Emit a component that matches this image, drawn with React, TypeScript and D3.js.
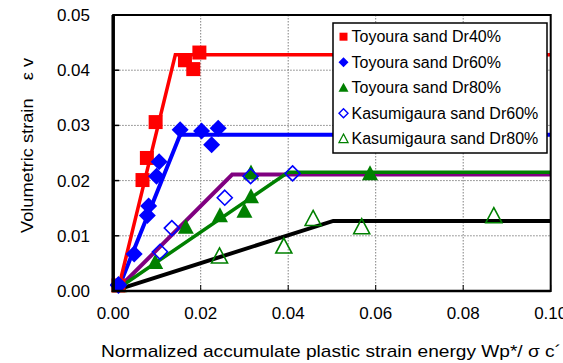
import React from "react";
import * as d3 from "d3";

const W = 563;
const H = 363;

const xTicks = [0, 0.02, 0.04, 0.06, 0.08, 0.1];
const yTicks = [0, 0.01, 0.02, 0.03, 0.04, 0.05];

// Toyoura sand Dr40% (red squares)
const toyoura40X = [0.0012, 0.0067, 0.0077, 0.0097, 0.0164, 0.0183, 0.0197];
const toyoura40Y = [0.0010, 0.0201, 0.0241, 0.0306, 0.0418, 0.0402, 0.0432];
// Toyoura sand Dr60% (blue diamonds)
const toyoura60X = [0.0012, 0.0048, 0.0078, 0.0081, 0.0099, 0.0105, 0.0153, 0.0202, 0.0225, 0.0240];
const toyoura60Y = [0.0012, 0.0067, 0.0137, 0.0154, 0.0208, 0.0234, 0.0292, 0.0290, 0.0265, 0.0295];
// Toyoura sand Dr80% (green filled triangles)
const toyoura80X = [0.0014, 0.0096, 0.0166, 0.0244, 0.0300, 0.0315, 0.0315, 0.0587];
const toyoura80Y = [0.0010, 0.0052, 0.0116, 0.0137, 0.0145, 0.0171, 0.0214, 0.0213];
// Kasumigaura sand Dr60% (open blue diamonds)
const kasumi60X = [0.0012, 0.0107, 0.0134, 0.0255, 0.0314, 0.0410];
const kasumi60Y = [0.0010, 0.0071, 0.0114, 0.0169, 0.0208, 0.0213];
// Kasumigaura sand Dr80% (open green triangles)
const kasumi80X = [0.0243, 0.0390, 0.0457, 0.0568, 0.0870];
const kasumi80Y = [0.0063, 0.0081, 0.0131, 0.0116, 0.0136];

// Fitted bilinear lines: [start, knee, end]
const lineRedX = [0.0012, 0.0142, 0.1];
const lineRedY = [0.0005, 0.0428, 0.0428];
const lineBlueX = [0.0012, 0.0153, 0.1];
const lineBlueY = [0.0005, 0.0283, 0.0283];
const linePurpleX = [0.0012, 0.0272, 0.1];
const linePurpleY = [0.0005, 0.0211, 0.0211];
const lineGreenX = [0.0012, 0.0400, 0.1];
const lineGreenY = [0.0005, 0.0215, 0.0215];
const lineBlackX = [0.0012, 0.0503, 0.1];
const lineBlackY = [0.0003, 0.0127, 0.0127];

const legendLabels = [
  "Toyoura sand Dr40%",
  "Toyoura sand Dr60%",
  "Toyoura sand Dr80%",
  "Kasumigaura sand Dr60%",
  "Kasumigaura sand Dr80%",
];

const x = d3.scaleLinear().domain([0, 0.1]).range([113.2, 550.7]);
const y = d3.scaleLinear().domain([0, 0.05]).range([291, 15]);

const zip = (xs: number[], ys: number[]) => xs.map((v, i) => [v, ys[i]] as [number, number]);

const lineGen = d3
  .line<[number, number]>()
  .x((d) => x(d[0]))
  .y((d) => y(d[1]));

function squarePath(cx: number, cy: number, s: number) {
  const h = s / 2;
  return `M${cx - h},${cy - h}H${cx + h}V${cy + h}H${cx - h}Z`;
}
function diamondPath(cx: number, cy: number, hw: number, hh: number) {
  return `M${cx},${cy - hh}L${cx + hw},${cy}L${cx},${cy + hh}L${cx - hw},${cy}Z`;
}
function trianglePath(cx: number, cy: number, w: number, h: number) {
  return `M${cx},${cy - h * 0.55}L${cx + w / 2},${cy + h * 0.45}L${cx - w / 2},${cy + h * 0.45}Z`;
}

const FONT = "'Liberation Sans', Arial, sans-serif";

export default function App() {
  const lines = [
    { xs: lineBlackX, ys: lineBlackY, color: "#000000", w: 4 },
    { xs: linePurpleX, ys: linePurpleY, color: "#800080", w: 4 },
    { xs: lineGreenX, ys: lineGreenY, color: "#008000", w: 3.5 },
    { xs: lineBlueX, ys: lineBlueY, color: "#0000FF", w: 4 },
    { xs: lineRedX, ys: lineRedY, color: "#FF0000", w: 3.5 },
  ];

  const legendX = 333;
  const legendY = 23;
  const rowH = 25.5;

  return (
    <svg
      width={W}
      height={H}
      style={{ position: "absolute", left: 0, top: 0, background: "#fff" }}
      fontFamily={FONT}
    >
      <rect x={0} y={0} width={W} height={H} fill="#fff" />
      {/* gridlines */}
      {xTicks.slice(1, -1).map((t) => (
        <line key={"gx" + t} x1={x(t)} x2={x(t)} y1={y(0.05)} y2={y(0)} stroke="#808080" strokeWidth={1} strokeDasharray="1.5,1.5" />
      ))}
      {yTicks.slice(1, -1).map((t) => (
        <line key={"gy" + t} x1={x(0)} x2={x(0.1)} y1={y(t)} y2={y(t)} stroke="#808080" strokeWidth={1} strokeDasharray="1.5,1.5" />
      ))}
      {/* ticks inside */}
      {yTicks.map((t) => (
        <line key={"ty" + t} x1={x(0)} x2={x(0) + 6} y1={y(t)} y2={y(t)} stroke="#000" strokeWidth={1.5} />
      ))}
      {xTicks.map((t) => (
        <line key={"tx" + t} x1={x(t)} x2={x(t)} y1={y(0)} y2={y(0) - 6} stroke="#000" strokeWidth={1} />
      ))}

      {/* fitted lines */}
      {lines.map((l, i) => (
        <path key={"l" + i} d={lineGen(zip(l.xs, l.ys)) || ""} fill="none" stroke={l.color} strokeWidth={l.w} strokeLinejoin="miter" />
      ))}

      {/* markers */}
      {zip(kasumi80X, kasumi80Y).map((d, i) => (
        <path key={"k80" + i} d={trianglePath(x(d[0]), y(d[1]), 16, 15)} fill="none" stroke="#008000" strokeWidth={1.6} />
      ))}
      {zip(toyoura80X, toyoura80Y).map((d, i) => (
        <path key={"t80" + i} d={trianglePath(x(d[0]), y(d[1]), 16, 15)} fill="#008000" />
      ))}
      {zip(toyoura40X, toyoura40Y).map((d, i) => (
        <path key={"t40" + i} d={squarePath(x(d[0]), y(d[1]), 14)} fill="#FF0000" />
      ))}
      {zip(toyoura60X, toyoura60Y).map((d, i) => (
        <path key={"t60" + i} d={diamondPath(x(d[0]), y(d[1]), 8.5, 8.5)} fill="#0000FF" />
      ))}
      {zip(kasumi60X, kasumi60Y).map((d, i) => (
        <path key={"k60" + i} d={diamondPath(x(d[0]), y(d[1]), 7.5, 7.5)} fill="none" stroke="#0000FF" strokeWidth={1.6} />
      ))}

      {/* frame */}
      <rect x={x(0)} y={y(0.05)} width={x(0.1) - x(0)} height={y(0) - y(0.05)} fill="none" stroke="#000" strokeWidth={2} />
      <line x1={x(0)} x2={x(0)} y1={y(0.05)} y2={y(0) + 1} stroke="#000" strokeWidth={3.5} />
      <line x1={x(0) - 1} x2={x(0.1)} y1={y(0)} y2={y(0)} stroke="#000" strokeWidth={2.5} />

      {/* tick labels */}
      {yTicks.map((t) => (
        <text key={"ly" + t} x={90} y={y(t)} dy="0.35em" textAnchor="end" fontSize={17} fill="#000">
          {d3.format(".2f")(t)}
        </text>
      ))}
      {xTicks.map((t) => (
        <text key={"lx" + t} x={x(t)} y={313.5} dy="0.35em" textAnchor="middle" fontSize={17} fill="#000">
          {d3.format(".2f")(t)}
        </text>
      ))}

      {/* axis titles */}
      <text
        transform={`translate(27.5,145.5) rotate(-90)`}
        textAnchor="middle"
        dy="0.35em"
        fontSize={17}
        fill="#000"
        textLength={175}
        lengthAdjust="spacingAndGlyphs"
      >
        Volumetric strain　ε v
      </text>
      <text
        x={331}
        y={351}
        dy="0.35em"
        textAnchor="middle"
        fontSize={17}
        fill="#000"
        textLength={460}
        lengthAdjust="spacingAndGlyphs"
      >
        Normalized accumulate plastic strain energy Wp*/ σ c´
      </text>

      {/* legend */}
      <rect x={legendX} y={legendY} width={214} height={130} fill="#fff" stroke="#000" strokeWidth={1.5} />
      {legendLabels.map((lab, i) => {
        const cy = legendY + 13.7 + i * rowH;
        const cx = legendX + 10.5;
        let marker: React.ReactNode = null;
        if (i === 0) marker = <path d={squarePath(cx, cy, 8)} fill="#FF0000" />;
        if (i === 1) marker = <path d={diamondPath(cx, cy, 5, 5)} fill="#0000FF" />;
        if (i === 2) marker = <path d={trianglePath(cx, cy, 10, 9)} fill="#008000" />;
        if (i === 3) marker = <path d={diamondPath(cx, cy, 4.5, 4.5)} fill="none" stroke="#0000FF" strokeWidth={1.4} />;
        if (i === 4) marker = <path d={trianglePath(cx, cy, 9, 8.5)} fill="none" stroke="#008000" strokeWidth={1.3} />;
        return (
          <g key={"lg" + i}>
            {marker}
            <text x={legendX + 18.5} y={cy} dy="0.35em" fontSize={16} fill="#000">
              {lab}
            </text>
          </g>
        );
      })}
    </svg>
  );
}
